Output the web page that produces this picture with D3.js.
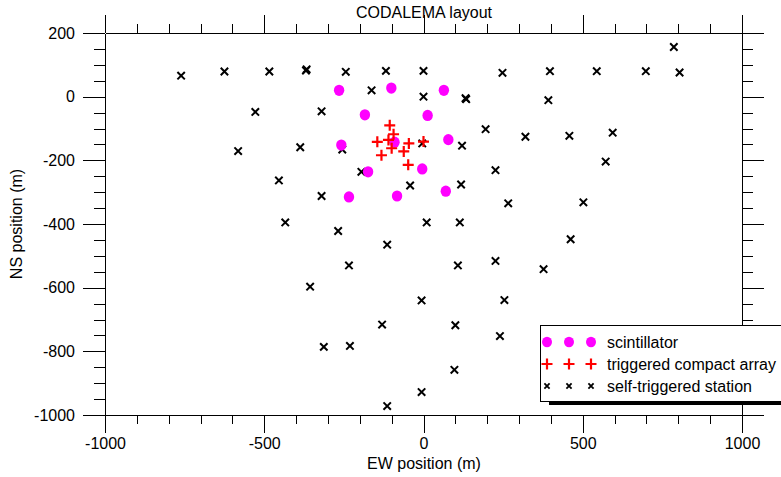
<!DOCTYPE html>
<html>
  <script src="https://cdn.jsdelivr.net/npm/d3@7/dist/d3.min.js" charset="utf-8"></script>
  <style>
    body{ margin: 0; background: #fff; }
    svg{ font-family: "Liberation Sans", Arial, sans-serif; }
    .axis path, .axis line{ stroke: #000; stroke-width: 1; shape-rendering: crispEdges; }
    .axis text{ font-size: 16px; fill: #000; }
  </style>
  <body>
    <script>

// station positions (m)
var scintillators = [
  [-265, 20], [-101, 27], [64, 20], [-184, -57], [13, -59],
  [-258, -152], [-91, -143], [78, -135], [-174, -236], [-4, -227],
  [-234, -315], [-83, -312], [70, -297]
]
var compactArray = [
  [-106, -90], [-94, -118], [-145, -142], [-110, -136], [-46, -147],
  [0, -141], [-100, -162], [-132, -184], [-62, -172], [-48, -214]
]
var selfTriggered = [
  [-761, 66], [-625, 79], [-484, 79], [-367, 86], [-369, 82], [-244, 78], [-118, 81],
  [0, 81], [248, 75], [397, 80], [544, 80], [698, 80], [804, 76], [786, 156],
  [-163, 20], [0, 0], [132, -5], [134, -8], [392, -11], [-528, -48], [-320, -46],
  [195, -102], [320, -126], [458, -123], [594, -113],
  [-582, -171], [-387, -159], [-255, -166], [-4, -147], [121, -154],
  [572, -204], [-195, -236], [226, -231],
  [-454, -263], [-42, -279], [118, -276],
  [-320, -312], [266, -335], [502, -332],
  [-434, -395], [-268, -422], [10, -395], [114, -395],
  [-114, -465], [462, -448],
  [-234, -530], [108, -530], [226, -516], [377, -542],
  [-356, -597], [-6, -640], [254, -639],
  [-130, -716], [100, -718], [240, -752],
  [-313, -786], [-231, -783], [97, -858], [-6, -928], [-114, -972]
]
var xMajor = [-1000, -500, 0, 500, 1000]
var yMajor = [-1000, -800, -600, -400, -200, 0, 200]
var legendLabels = ['scintillator', 'triggered compact array', 'self-triggered station']

var W = 781, H = 477
var svg = d3.select('body').append('svg').attr('width', W).attr('height', H)

var x = d3.scaleLinear().domain([-1000, 1000]).range([105, 742])
  , y = d3.scaleLinear().domain([-1000, 200]).range([415, 33])

var xMinor = d3.range(-900, 1000, 100).filter(function(v){ return v % 500 })
  , yMinor = d3.range(-950, 200, 50).filter(function(v){ return v % 200 })

function axis(fn, scale, vals, size, labels){
  var a = fn(scale).tickValues(vals).tickSize(size).tickSizeOuter(0)
  a.tickFormat(labels ? function(d){ return String(d) } : '')
  return a
}

var g = svg.append('g')
g.append('g').attr('class', 'axis').attr('transform', 'translate(0,415)')
  .call(axis(d3.axisBottom, x, xMinor, 9))
g.append('g').attr('class', 'axis').attr('transform', 'translate(0,415)')
  .call(axis(d3.axisBottom, x, xMajor, 18, true).tickPadding(5))
g.append('g').attr('class', 'axis').attr('transform', 'translate(0,33)')
  .call(axis(d3.axisTop, x, xMinor, 9))
g.append('g').attr('class', 'axis').attr('transform', 'translate(0,33)')
  .call(axis(d3.axisTop, x, xMajor, 18))
g.append('g').attr('class', 'axis').attr('transform', 'translate(105,0)')
  .call(axis(d3.axisLeft, y, yMinor, 11))
g.append('g').attr('class', 'axis').attr('transform', 'translate(105,0)')
  .call(axis(d3.axisLeft, y, yMajor, 22, true).tickPadding(8))
g.append('g').attr('class', 'axis').attr('transform', 'translate(742,0)')
  .call(axis(d3.axisRight, y, yMinor, 11))
g.append('g').attr('class', 'axis').attr('transform', 'translate(742,0)')
  .call(axis(d3.axisRight, y, yMajor, 22))

// titles
svg.append('text').attr('x', 424).attr('y', 18).attr('text-anchor', 'middle')
  .style('font-size', '16px').text('CODALEMA layout')
svg.append('text').attr('x', 424).attr('y', 469).attr('text-anchor', 'middle')
  .style('font-size', '16px').text('EW position (m)')
svg.append('text').attr('transform', 'translate(22,224) rotate(-90)').attr('text-anchor', 'middle')
  .style('font-size', '16px').text('NS position (m)')

var crossX = function(s){ return 'M' + -s + ',' + -s + 'L' + s + ',' + s + 'M' + -s + ',' + s + 'L' + s + ',' + -s }
var plus = function(s){ return 'M' + -s + ',0L' + s + ',0M0,' + -s + 'L0,' + s }

var marks = svg.append('g')
marks.selectAll('.st').data(selfTriggered).enter().append('path').attr('class', 'st')
  .attr('transform', function(d){ return 'translate(' + x(d[0]) + ',' + y(d[1]) + ')' })
  .attr('d', crossX(3.7)).attr('stroke', '#000').attr('stroke-width', 2).attr('fill', 'none')
marks.selectAll('.sc').data(scintillators).enter().append('ellipse').attr('class', 'sc')
  .attr('cx', function(d){ return x(d[0]) }).attr('cy', function(d){ return y(d[1]) })
  .attr('rx', 5.2).attr('ry', 5.6).attr('fill', '#ff00ff')
marks.selectAll('.ca').data(compactArray).enter().append('path').attr('class', 'ca')
  .attr('transform', function(d){ return 'translate(' + x(d[0]) + ',' + y(d[1]) + ')' })
  .attr('d', plus(5.5)).attr('stroke', '#ff0000').attr('stroke-width', 2.2).attr('fill', 'none')

// legend
var lg = svg.append('g')
lg.append('rect').attr('x', 549).attr('y', 329).attr('width', 300).attr('height', 76).attr('fill', '#000')
lg.append('rect').attr('x', 540.5).attr('y', 325.5).attr('width', 300).attr('height', 76)
  .attr('fill', '#fff').attr('stroke', '#000').attr('stroke-width', 1)
var rows = [342, 364, 386], mx = [547, 569, 591]
legendLabels.forEach(function(label, i){
  mx.forEach(function(px){
    if(i === 0) lg.append('ellipse').attr('cx', px).attr('cy', rows[i]).attr('rx', 5).attr('ry', 5.3).attr('fill', '#ff00ff')
    else if(i === 1) lg.append('path').attr('transform', 'translate(' + px + ',' + rows[i] + ')')
      .attr('d', plus(5.5)).attr('stroke', '#ff0000').attr('stroke-width', 2.2)
    else lg.append('path').attr('transform', 'translate(' + px + ',' + rows[i] + ')')
      .attr('d', crossX(2.6)).attr('stroke', '#000').attr('stroke-width', 1.8)
  })
  lg.append('text').attr('x', 607).attr('y', rows[i] + 6).style('font-size', '16px').text(label)
})

    </script>
  </body>
</html>
